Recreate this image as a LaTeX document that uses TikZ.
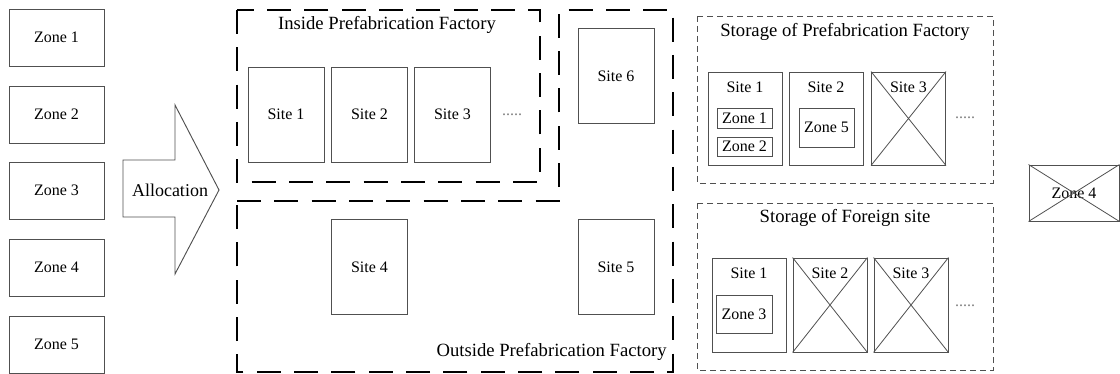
\documentclass[tikz,border=0pt]{standalone}
\usepackage{fontspec}
\setmainfont{Liberation Serif}
\usetikzlibrary{positioning}
\definecolor{boxline}{HTML}{505050}

\begin{document}
\begin{tikzpicture}[x=0.75pt,y=-0.75pt,
    box/.style={draw=boxline, line width=0.7pt, inner sep=0pt, fill=white},
    zonebox/.style={box, minimum width=95*0.75pt, minimum height=57*0.75pt, font=\fontsize{12}{14}\selectfont},
    sitebox/.style={box, minimum width=76*0.75pt, minimum height=95*0.75pt, font=\fontsize{12}{14}\selectfont},
    storebox/.style={box, minimum width=74*0.75pt, minimum height=93*0.75pt},
    lbl/.style={inner sep=0pt, font=\fontsize{12}{14}\selectfont},
    title/.style={inner sep=0pt, font=\fontsize{14}{16}\selectfont},
    bigdash/.style={draw=black, line width=1.5pt, dash pattern=on 18pt off 10pt},
    smalldash/.style={draw=boxline, line width=0.7pt, dash pattern=on 4.5pt off 3pt},
    dots/.style={inner sep=0pt, text=gray, font=\fontsize{12}{14}\selectfont}]
    \useasboundingbox (0,0) rectangle (1120,374);

    % Zones to be allocated
    \foreach \i/\y in {1/37.5, 2/114.5, 3/190.5, 4/267.5, 5/344.5} {
        \node[zonebox] (zone\i) at (56.5,\y) {Zone \i};
    }

    % Allocation arrow
    \draw[boxline, line width=0.7pt, fill=white] (123,160) -- (175,160) -- (175,105) -- (219,190)
        -- (175,274) -- (175,217) -- (123,217) -- cycle;
    \node[inner sep=0pt, font=\fontsize{13.5}{16}\selectfont] (alloc) at (170,190) {Allocation};

    % Factory areas
    \draw[bigdash] (237,10) rectangle (540,182);
    \draw[bigdash] (237,201) -- (559,201) -- (559,10) -- (673,10) -- (673,372) -- (237,372) -- cycle;
    \node[title] (insidet) at (387,25) {Inside Prefabrication Factory};
    \node[title, anchor=east] (outsidet) at (667,352) {Outside Prefabrication Factory};

    \foreach \i/\x in {1/286, 2/369.5, 3/452.5} {
        \node[sitebox] (site\i) at (\x,114.5) {Site \i};
    }
    \node[dots] (insdots) at (512,115) {.....};
    \node[sitebox] (site6) at (616,76) {Site 6};
    \node[sitebox] (site4) at (369.5,267) {Site 4};
    \node[sitebox] (site5) at (616,267) {Site 5};

    % Storage of prefabrication factory
    \draw[smalldash] (697,16) rectangle (993,183);
    \node[title] (pft) at (845,32) {Storage of Prefabrication Factory};
    \foreach \i/\x in {1/745, 2/826, 3/908.5} {
        \node[storebox] (pf\i) at (\x,118.5) {};
        \node[lbl] (pf\i t) at (\x,87) {Site \i};
    }
    \draw[boxline, line width=0.6pt] (pf3.north west) -- (pf3.south east) (pf3.north east) -- (pf3.south west);
    \node[box, lbl, minimum width=55*0.75pt, minimum height=20*0.75pt] (pfz1) at (744.5,118) {Zone 1};
    \node[box, lbl, minimum width=55*0.75pt, minimum height=19*0.75pt] (pfz2) at (744.5,146.5) {Zone 2};
    \node[box, lbl, minimum width=55*0.75pt, minimum height=39*0.75pt] (pfz5) at (826.5,127.5) {Zone 5};
    \node[dots] (pfdots) at (965,118) {.....};

    % Storage of foreign site
    \draw[smalldash] (697,203) rectangle (993,370);
    \node[title] (fst) at (845,218) {Storage of Foreign site};
    \foreach \i/\x in {1/749, 2/830, 3/911} {
        \node[storebox, minimum height=94*0.75pt] (fs\i) at (\x,305) {};
        \node[lbl] (fs\i t) at (\x,273) {Site \i};
    }
    \foreach \i in {2,3} {
        \draw[boxline, line width=0.6pt] (fs\i.north west) -- (fs\i.south east) (fs\i.north east) -- (fs\i.south west);
    }
    \node[box, lbl, minimum width=56*0.75pt, minimum height=38*0.75pt] (fsz3) at (744,314) {Zone 3};
    \node[dots] (fsdots) at (965,306) {.....};

    % Zone left over
    \node[zonebox, minimum width=90*0.75pt, minimum height=56*0.75pt] (left4) at (1074,193) {Zone 4};
    \draw[boxline, line width=0.6pt] (left4.north west) -- (left4.south east) (left4.north east) -- (left4.south west);
\end{tikzpicture}
\end{document}
